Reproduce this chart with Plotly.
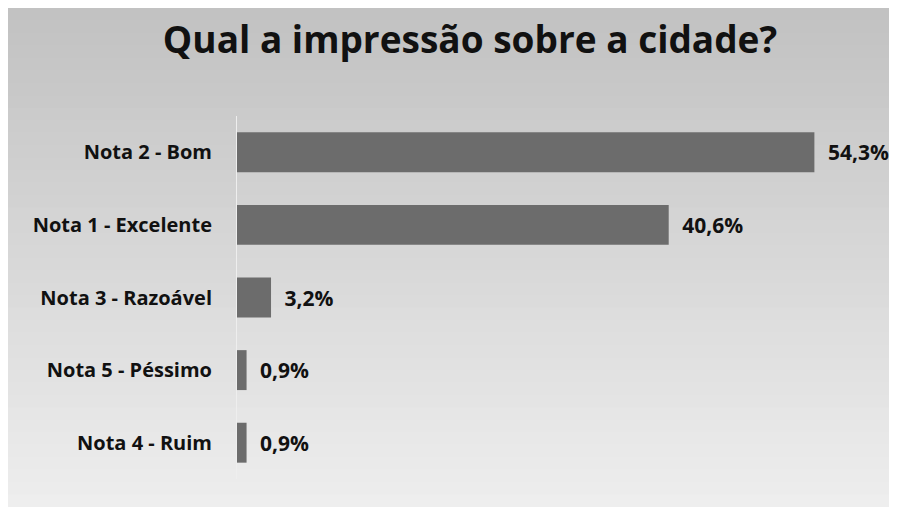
import plotly.graph_objects as go

categories = ["Nota 2 - Bom", "Nota 1 - Excelente", "Nota 3 - Razoável", "Nota 5 - Péssimo", "Nota 4 - Ruim"]
values = [54.3, 40.6, 3.2, 0.9, 0.9]
title_text = "Qual a impressão sobre a cidade?"

W, H = 889, 499
L, R, T, B = 229, 22, 108, 28
pw, ph = W - L - R, H - T - B

def px_x(p):
    return (p - L) / pw

def px_y(p):
    return (H - B - p) / ph

fig = go.Figure()

# background gradient (scanned grey card)
n = 40
top_c, bot_c = 194, 238
for i in range(n):
    a = H * i / n
    c = int(top_c + (bot_c - top_c) * i / (n - 1))
    fig.add_shape(type="rect", xref="paper", yref="paper",
                  x0=px_x(0), x1=px_x(W), y0=px_y(H), y1=px_y(a),
                  fillcolor=f"rgb({c},{c},{c})", line_width=0, layer="below")

fig.add_trace(go.Bar(
    x=values, y=categories, orientation="h",
    marker=dict(color="#6c6c6c", line=dict(width=0)),
    width=0.55,
    texttemplate="\u2002<b>%{x:.1f}%</b>", textposition="outside",
    textfont=dict(family="Open Sans", size=21, color="#111111"),
    cliponaxis=False,
))

fig.update_layout(
    width=W, height=H,
    margin=dict(l=L, r=R, t=T, b=B),
    paper_bgcolor="rgb(194,194,194)", plot_bgcolor="rgba(0,0,0,0)",
    separators=",.",
    showlegend=False,
    title=dict(text=f"<b>{title_text}</b>", x=462 / W, xanchor="center",
               y=1 - 32 / H, yanchor="middle",
               font=dict(family="Open Sans", size=37, color="#111111")),
    xaxis=dict(range=[0, 60], visible=False),
    yaxis=dict(categoryorder="array", categoryarray=categories, autorange="reversed",
               showline=True, linecolor="#eeeeee", linewidth=1,
               showgrid=False, ticks="", ticklabelstandoff=20,
               tickvals=categories, ticktext=[f"<b>{c}</b>" for c in categories],
               tickfont=dict(family="Open Sans", size=20, color="#111111")),
)

fig.write_html("out.html")
